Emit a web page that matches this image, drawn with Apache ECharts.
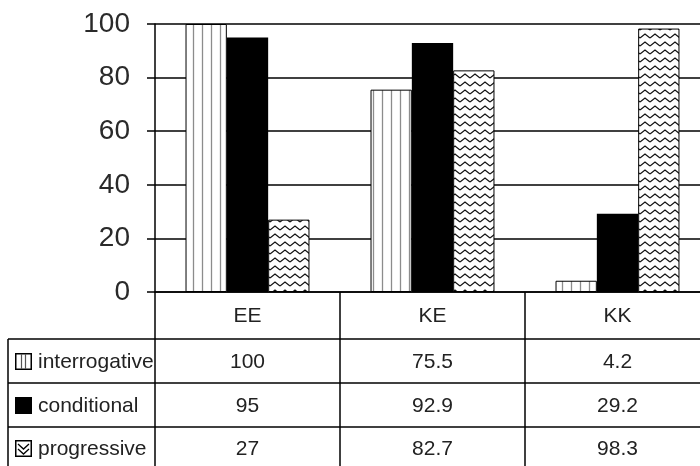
<!DOCTYPE html>
<html>
<head>
<meta charset="utf-8">
<script src="https://cdn.jsdelivr.net/npm/echarts@6/dist/echarts.min.js"></script>
<style>
  html, body { margin: 0; padding: 0; background: #fff; overflow: hidden; }
  #chart { width: 710px; height: 466px; }
</style>
</head>
<body>
<div id="chart"></div>
<script>
// Chart data
const categories = ['EE', 'KE', 'KK'];
const seriesNames = ['interrogative', 'conditional', 'progressive'];
const interrogative = [100, 75.5, 4.2];
const conditional = [95, 92.9, 29.2];
const progressive = [27, 82.7, 98.3];
const yMin = 0, yMax = 100, yStep = 20;

// Plot geometry (pixels); the last column runs past the right edge of the window
const G = { left: 155, top: 24, width: 555, height: 268 };
const tableBottom = 466;
const rowLines = [339, 383, 427];
const tableLeft = 8;
const font = '21px "Liberation Sans", Arial, sans-serif';

// Fill patterns
function stripePattern() {
  const c = document.createElement('canvas');
  c.width = 9; c.height = 9;
  const g = c.getContext('2d');
  g.fillStyle = '#fff'; g.fillRect(0, 0, 9, 9);
  g.strokeStyle = '#8c8c8c'; g.lineWidth = 1.3;
  g.beginPath(); g.moveTo(4.5, 0); g.lineTo(4.5, 9); g.stroke();
  return c;
}
function zigzagPattern() {
  const c = document.createElement('canvas');
  c.width = 10; c.height = 8;
  const g = c.getContext('2d');
  g.fillStyle = '#fff'; g.fillRect(0, 0, 10, 8);
  g.strokeStyle = '#111'; g.lineWidth = 1.2;
  g.beginPath(); g.moveTo(0, 6); g.lineTo(5, 2); g.lineTo(10, 6); g.stroke();
  return c;
}
function iconCanvas(kind) {
  const s = 17;
  const c = document.createElement('canvas');
  c.width = s; c.height = s;
  const g = c.getContext('2d');
  g.fillStyle = kind === 1 ? '#000' : '#fff';
  g.fillRect(0, 0, s, s);
  g.strokeStyle = '#000'; g.lineWidth = 1.5;
  g.strokeRect(0.75, 0.75, s - 1.5, s - 1.5);
  if (kind === 0) {
    g.strokeStyle = '#555'; g.lineWidth = 1.2;
    g.beginPath(); g.moveTo(6.5, 1); g.lineTo(6.5, s - 1);
    g.moveTo(10.5, 1); g.lineTo(10.5, s - 1); g.stroke();
  } else if (kind === 2) {
    g.strokeStyle = '#000'; g.lineWidth = 1.3;
    g.beginPath(); g.moveTo(3, 4); g.lineTo(8.5, 9); g.lineTo(14, 4);
    g.moveTo(3, 9); g.lineTo(8.5, 14); g.lineTo(14, 9); g.stroke();
  }
  return c;
}

const stripe = stripePattern();
const zigzag = zigzagPattern();
const seriesValues = [interrogative, conditional, progressive];
const seriesStyles = [
  { color: { image: stripe, repeat: 'repeat' }, borderColor: '#000', borderWidth: 1 },
  { color: '#000' },
  { color: { image: zigzag, repeat: 'repeat' }, borderColor: '#000', borderWidth: 1 }
];

// Data table below the plot
const colW = G.width / categories.length;
const colCenter = i => G.left + (i + 0.5) * colW;
const rowCenters = [361, 405, 448];
const lineStyle = { stroke: '#000', lineWidth: 1.5 };
const graphics = [];

graphics.push({ type: 'line', shape: { x1: G.left, y1: G.top + G.height, x2: G.left, y2: tableBottom }, style: lineStyle });
for (let i = 1; i < categories.length; i++) {
  const x = G.left + i * colW;
  graphics.push({ type: 'line', shape: { x1: x, y1: G.top + G.height, x2: x, y2: tableBottom }, style: lineStyle });
}
rowLines.forEach(y => {
  graphics.push({ type: 'line', shape: { x1: tableLeft, y1: y, x2: G.left + G.width, y2: y }, style: lineStyle });
});
graphics.push({ type: 'line', shape: { x1: tableLeft, y1: rowLines[0], x2: tableLeft, y2: tableBottom }, style: lineStyle });

categories.forEach((cat, i) => {
  graphics.push({ type: 'text', style: { text: cat, x: colCenter(i), y: 316, align: 'center', verticalAlign: 'middle', font: font, fill: '#222' } });
});
seriesNames.forEach((name, r) => {
  graphics.push({ type: 'image', style: { image: iconCanvas(r), x: 15, y: rowCenters[r] - 8, width: 17, height: 17 } });
  graphics.push({ type: 'text', style: { text: name, x: 38, y: rowCenters[r] + 1, align: 'left', verticalAlign: 'middle', font: font, fill: '#222' } });
  seriesValues[r].forEach((v, i) => {
    graphics.push({ type: 'text', style: { text: String(v), x: colCenter(i), y: rowCenters[r] + 1, align: 'center', verticalAlign: 'middle', font: font, fill: '#222' } });
  });
});

const chart = echarts.init(document.getElementById('chart'), null, { renderer: 'canvas' });
chart.setOption({
  animation: false,
  backgroundColor: '#fff',
  grid: { left: G.left, top: G.top, width: G.width, height: G.height, containLabel: false },
  xAxis: {
    type: 'category',
    data: categories,
    axisLine: { lineStyle: { color: '#000', width: 1.5 } },
    axisTick: { show: false },
    axisLabel: { show: false },
    splitLine: { show: false }
  },
  yAxis: {
    type: 'value',
    min: yMin, max: yMax, interval: yStep,
    axisLine: { show: true, lineStyle: { color: '#000', width: 1.5 } },
    axisTick: { show: true, length: 8, lineStyle: { color: '#000', width: 1.5 } },
    axisLabel: { margin: 25, color: '#2a2a2a', fontSize: 28, fontFamily: '"Liberation Sans", Arial, sans-serif' },
    splitLine: { show: true, lineStyle: { color: '#000', width: 1.5 } }
  },
  series: seriesNames.map((name, k) => ({
    name: name,
    type: 'bar',
    data: seriesValues[k],
    barGap: '0%',
    barCategoryGap: '33%',
    itemStyle: seriesStyles[k]
  })),
  graphic: graphics
});
</script>
</body>
</html>
